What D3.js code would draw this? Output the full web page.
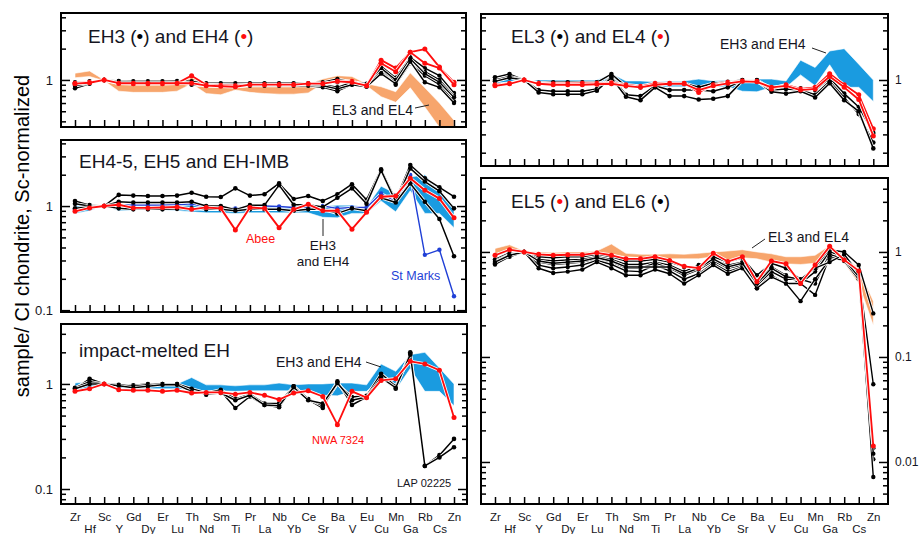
<!DOCTYPE html>
<html>
<head>
<meta charset="utf-8">
<script src="https://cdn.jsdelivr.net/npm/d3@7"></script>
<style>
  html, body { margin: 0; padding: 0; background: #fff; }
  svg { display: block; font-family: "Liberation Sans", Arial, Helvetica, sans-serif; }
</style>
</head>
<body>
<svg id="chart" width="919" height="534"></svg>
<script>
// ---------------------------------------------------------------------------
// Element order along the x axis (Sc-normalized, CI-chondrite ratios)
// ---------------------------------------------------------------------------
const elements = ["Zr","Hf","Sc","Y","Gd","Dy","Er","Lu","Th","Nd","Sm","Ti","Pr","La","Nb","Yb","Ce","Sr","Ba","V","Eu","Cu","Mn","Ga","Rb","Cs","Zn"];

// y-axis tick labels per panel
const labelsEH34 = [1];
const labelsEH45 = [1, 0.1];
const labelsImpact = [1, 0.1];
const labelsEL34 = [1];
const labelsEL56 = [1, 0.1, 0.01];

// --- EH3 (black) and EH4 (red) ---
const eh3Series = [
  [0.95,0.97,1,0.97,0.96,0.96,0.96,0.96,0.95,0.92,0.92,0.90,0.92,0.92,0.92,0.92,0.92,0.92,0.95,0.95,0.90,1.35,1.05,1.65,1.30,1.10,0.75],
  [0.90,0.95,1,0.95,0.94,0.94,0.94,0.95,0.92,0.90,0.90,0.88,0.90,0.90,0.90,0.90,0.90,0.90,0.85,0.95,0.88,1.25,0.95,1.55,1.20,1.00,0.70],
  [0.83,0.92,1,0.95,0.95,0.95,0.95,0.95,0.90,0.88,0.88,0.86,0.88,0.88,0.88,0.88,0.88,0.85,0.78,0.90,0.88,1.20,0.90,1.45,1.10,0.90,0.62],
  [0.92,0.95,1,0.98,0.97,0.97,0.97,0.98,0.97,0.93,0.93,0.93,0.93,0.93,0.93,0.93,0.93,0.95,1.02,0.95,0.92,1.30,1.00,1.60,1.15,0.95,0.68],
  [0.88,0.93,1,0.96,0.95,0.95,0.95,0.95,0.93,0.90,0.90,0.90,0.90,0.90,0.90,0.90,0.90,0.88,0.82,0.90,0.86,1.15,0.92,1.50,0.95,0.85,0.60]
];
const eh4Series = [
  [0.93,0.95,1,0.93,0.92,0.92,0.92,0.93,1.10,0.90,0.89,0.88,0.90,0.90,0.90,0.90,0.92,0.92,0.97,0.97,0.88,1.55,1.30,1.85,1.98,1.33,0.95],
  [0.92,0.94,1,0.93,0.93,0.93,0.93,0.93,0.93,0.88,0.87,0.86,0.90,0.90,0.90,0.90,0.92,0.92,0.97,0.95,0.88,1.45,1.20,1.85,1.45,1.30,0.90]
];
// EL3/EL4 field as shown behind the EH3/EH4 profiles
const elFieldLowA  = [1.05,1.08,0.98,0.78,0.76,0.76,0.76,0.78,0.92,0.74,0.72,0.80,0.76,0.74,0.73,0.73,0.75,0.92,0.93,0.90,0.88,0.69,0.61,0.84,0.55,0.35,0.20];
const elFieldHighA = [1.16,1.22,1.00,0.93,0.93,0.93,0.93,0.93,1.10,0.92,0.90,0.92,0.92,0.92,0.92,0.92,0.92,1.02,1.10,1.08,0.92,0.86,0.77,1.17,0.84,0.60,0.41];

// --- EH4-5, EH5 and EH-IMB ---
const eh5Series = [
  [1.12,1.02,1,1.28,1.26,1.25,1.25,1.26,1.34,1.23,1.22,1.48,1.26,1.30,1.65,1.17,1.25,1.12,1.30,1.62,1.15,2.25,1.14,2.48,1.85,1.51,1.23],
  [1.05,1.00,1,1.10,1.08,1.08,1.08,1.08,1.10,1.00,1.00,0.92,1.02,1.02,1.59,1.03,1.03,0.98,1.20,1.48,1.05,2.20,1.10,2.30,1.72,1.39,0.95],
  [0.95,0.98,1,0.95,0.93,0.93,0.93,0.94,0.95,0.93,0.93,0.90,0.93,0.93,0.93,0.90,0.93,0.93,0.85,0.95,0.90,1.20,1.08,1.65,1.10,0.75,0.33]
];
const abee    = [0.89,0.96,1,1.03,0.96,0.96,0.97,0.98,0.93,0.97,0.95,0.59,0.97,0.95,0.62,0.93,1.04,0.90,0.90,0.60,0.87,1.23,1.25,1.85,1.42,1.18,0.77];
const stMarks = [0.93,0.97,1,1.03,1.02,1.02,1.02,1.03,1.05,0.98,0.98,0.95,1.00,1.00,0.99,0.97,0.98,1.00,0.95,0.97,0.97,1.32,1.10,1.99,0.34,0.38,0.136];
// EH3/EH4 field
const ehFieldLow  = [0.85,0.90,1.00,0.90,0.90,0.90,0.90,0.90,0.88,0.86,0.86,0.85,0.86,0.86,0.86,0.86,0.86,0.78,0.77,0.85,0.85,1.12,0.88,1.40,0.85,0.85,0.62];
const ehFieldHigh = [1.02,1.05,1.00,1.00,1.00,1.00,1.00,1.00,1.15,0.98,0.98,0.96,0.98,0.98,1.02,0.98,1.00,1.00,1.02,1.02,0.98,1.55,1.32,1.90,2.00,1.42,1.00];

// --- impact-melted EH ---
const impactSeries = [
  [0.90,1.12,1,0.97,0.97,1.00,1.00,1.00,0.86,0.79,0.85,0.59,0.76,0.63,0.60,0.95,0.71,0.59,1.06,0.63,0.75,1.23,0.90,2.00,0.166,0.21,0.30],
  [0.92,1.05,1,0.98,0.95,0.98,1.00,1.00,0.90,0.82,0.88,0.72,0.80,0.65,0.65,0.95,0.72,0.62,1.00,0.75,0.77,1.25,0.95,1.95,0.166,0.20,0.25],
  [0.90,1.00,1,0.96,0.92,0.95,0.98,0.98,0.85,0.80,0.82,0.70,0.78,0.63,0.62,0.93,0.70,0.65,1.02,0.70,0.75,1.15,0.92,1.90,null,null,null]
];
const nwa7324 = [0.85,0.90,1,0.88,0.87,0.87,0.85,0.87,0.82,0.83,0.83,0.80,0.83,0.78,0.71,0.82,0.86,0.76,0.41,0.85,0.74,1.08,1.12,1.64,1.55,1.35,0.48];

// --- EL3 (black) and EL4 (red) ---
const el3Series = [
  [1.06,1.14,1,0.94,0.95,0.95,0.95,0.95,1.14,0.87,0.85,0.88,0.93,0.93,0.85,0.93,0.96,1.00,1.00,0.83,0.85,0.83,0.80,1.04,0.74,0.55,0.31],
  [1.00,1.08,1,0.80,0.78,0.78,0.78,0.82,1.08,0.72,0.70,0.88,0.80,0.80,0.80,0.78,0.85,0.99,0.99,0.80,0.82,0.80,0.72,0.97,0.68,0.47,0.25],
  [0.97,1.05,1,0.76,0.73,0.73,0.73,0.79,1.05,0.69,0.64,0.85,0.70,0.70,0.65,0.66,0.70,0.98,0.98,0.77,0.74,0.78,0.68,0.93,0.64,0.50,0.22]
];
const el4Series = [
  [0.90,0.93,1,0.93,0.92,0.92,0.93,0.93,0.94,0.90,0.87,0.93,0.93,0.93,0.76,0.90,0.95,0.98,0.97,0.82,0.90,0.82,0.85,1.15,0.90,0.72,0.34],
  [0.88,0.92,1,0.92,0.90,0.90,0.90,0.91,0.92,0.88,0.85,0.90,0.92,0.92,0.80,0.88,0.93,0.97,0.96,0.85,0.88,0.80,0.82,1.08,0.85,0.65,0.29]
];

// --- EL5 (red) and EL6 (black) ---
const el6Series = [
  [0.85,0.98,1,0.90,0.88,0.90,0.90,0.95,0.90,0.82,0.82,0.85,0.80,0.72,0.72,0.90,0.80,0.88,0.60,0.78,0.70,0.55,0.72,1.05,1.00,0.75,0.26],
  [0.82,0.95,1,0.85,0.82,0.84,0.85,0.90,0.85,0.76,0.76,0.80,0.75,0.65,0.75,0.85,0.75,0.80,0.52,0.72,0.60,0.50,0.65,1.00,0.90,0.60,0.055],
  [0.80,0.94,1,0.80,0.76,0.78,0.80,0.86,0.80,0.70,0.70,0.78,0.70,0.60,0.68,0.82,0.70,0.75,0.48,0.65,0.55,0.55,0.50,0.95,0.85,0.60,0.0135],
  [0.78,0.92,1,0.75,0.70,0.72,0.75,0.83,0.76,0.66,0.65,0.75,0.66,0.55,0.62,0.78,0.65,0.72,0.45,0.60,0.50,0.50,0.39,0.90,0.82,0.55,0.0106],
  [0.76,0.90,1,0.70,0.63,0.65,0.68,0.80,0.70,0.60,0.60,0.68,0.62,0.50,0.60,0.75,0.62,0.70,0.45,0.58,0.50,0.34,0.55,0.85,0.85,0.58,0.0072],
  [0.80,0.93,1,0.82,0.78,0.80,0.82,0.88,0.82,0.72,0.72,0.72,0.72,0.62,0.70,0.86,0.72,0.78,0.50,0.70,0.58,0.55,0.70,0.80,0.95,0.62,0.012]
];
const el5 = [0.93,1.05,1,0.95,0.93,0.94,0.94,0.98,0.93,0.86,0.86,0.90,0.83,0.73,0.70,0.97,0.81,0.90,0.52,0.82,0.77,0.50,0.75,1.13,0.84,0.66,0.0142];
// EL3/EL4 field as shown behind the EL5/EL6 profiles
const elFieldLowB  = [0.95,1.05,0.98,0.95,0.93,0.94,0.94,0.97,0.95,0.90,0.88,0.90,0.86,0.86,0.86,0.90,0.82,0.88,0.86,0.80,0.77,0.76,0.78,1.00,0.78,0.50,0.20];
const elFieldHighB = [1.08,1.17,1.02,1.00,0.99,1.00,1.00,1.02,1.19,0.97,0.95,0.95,0.96,0.95,0.97,1.00,1.02,1.05,1.00,0.96,0.90,0.90,0.93,1.15,0.92,0.70,0.34];

// ---------------------------------------------------------------------------
// Styling
// ---------------------------------------------------------------------------
const BLACK = "#000";
const RED = "#ff0d0d";
const BLUE_LINE = "#1f3fd6";
const BLUE_FIELD = "#1a9be0";
const ORANGE_FIELD = "#f7a56c";
const TEXT = "#151522";

const svg = d3.select("#chart");
const defs = svg.append("defs");

const leftX = [75, 454];
const rightX = [495, 873.3];

const panels = [
  { id: "a", x0: 61, x1: 466, y0: 13, y1: 127, xr: leftX, dom: [0.353, 4.4], labels: labelsEH34, side: "left",
    layers: [
      { band: [elFieldLowA, elFieldHighA], color: ORANGE_FIELD },
      { series: eh3Series, color: BLACK, w: 1.4, r: 2.2 },
      { series: eh4Series, color: RED, w: 1.8, r: 2.5 }
    ] },
  { id: "b", x0: 61, x1: 466, y0: 140, y1: 312, xr: leftX, dom: [0.096, 4.31], labels: labelsEH45, side: "left",
    layers: [
      { band: [ehFieldLow, ehFieldHigh], color: BLUE_FIELD },
      { series: [stMarks], color: BLUE_LINE, w: 1.4, r: 2.2 },
      { series: eh5Series, color: BLACK, w: 1.5, r: 2.3 },
      { series: [abee], color: RED, w: 1.9, r: 2.5 }
    ] },
  { id: "c", x0: 61, x1: 467, y0: 324, y1: 504, xr: leftX, dom: [0.072, 3.72], labels: labelsImpact, side: "left", xlabels: true,
    layers: [
      { band: [ehFieldLow, ehFieldHigh], color: BLUE_FIELD },
      { series: impactSeries, color: BLACK, w: 1.5, r: 2.3 },
      { series: [nwa7324], color: RED, w: 1.8, r: 2.5 }
    ] },
  { id: "d", x0: 481, x1: 888, y0: 14, y1: 166, xr: rightX, dom: [0.149, 4.31], labels: labelsEL34, side: "right",
    layers: [
      { band: [ehFieldLow, ehFieldHigh], color: BLUE_FIELD },
      { series: el3Series, color: BLACK, w: 1.5, r: 2.3 },
      { series: el4Series, color: RED, w: 1.8, r: 2.5 }
    ] },
  { id: "e", x0: 481, x1: 888, y0: 178, y1: 504, xr: rightX, dom: [0.00398, 5.06], labels: labelsEL56, side: "right", xlabels: true,
    layers: [
      { band: [elFieldLowB, elFieldHighB], color: ORANGE_FIELD },
      { series: el6Series, color: BLACK, w: 1.4, r: 2.2 },
      { series: [el5], color: RED, w: 1.8, r: 2.5 }
    ] }
];

function logTickValues(dom) {
  const out = [];
  for (let e = -4; e <= 1; e++) {
    for (let k = 1; k <= 9; k++) {
      const v = +(k * Math.pow(10, e)).toPrecision(3);
      if (v > dom[0] * 1.02 && v < dom[1] / 1.02) out.push(v);
    }
  }
  return out;
}
const isDecade = v => Math.abs(Math.log10(v) - Math.round(Math.log10(v))) < 1e-6;

function drawPanel(p) {
  const g = svg.append("g").attr("class", "panel-" + p.id);
  const x = d3.scalePoint().domain(elements).range(p.xr);
  const y = d3.scaleLog().domain(p.dom).range([p.y1, p.y0]);
  const idx = d3.range(elements.length);

  defs.append("clipPath").attr("id", "clip-" + p.id)
    .append("rect").attr("x", p.x0).attr("y", p.y0)
    .attr("width", p.x1 - p.x0).attr("height", p.y1 - p.y0);

  const plot = g.append("g").attr("clip-path", `url(#clip-${p.id})`);

  p.layers.forEach(L => {
    if (L.band) {
      const area = d3.area()
        .x(i => x(elements[i]))
        .y0(i => y(L.band[0][i]))
        .y1(i => y(L.band[1][i]));
      plot.append("path").datum(idx).attr("d", area)
        .attr("fill", L.color).attr("stroke", "#fff").attr("stroke-width", 0.6);
    } else {
      const line = d3.line()
        .defined(d => d != null)
        .x((d, i) => x(elements[i]))
        .y(d => y(d));
      L.series.forEach(s => {
        plot.append("path").datum(s).attr("d", line)
          .attr("fill", "none").attr("stroke", "#fff")
          .attr("stroke-width", L.w + 1.6).attr("stroke-linejoin", "round");
        plot.append("path").datum(s).attr("d", line)
          .attr("fill", "none").attr("stroke", L.color)
          .attr("stroke-width", L.w).attr("stroke-linejoin", "round");
        plot.append("g").selectAll("circle")
          .data(s.map((v, i) => ({ v, i })).filter(d => d.v != null))
          .join("circle")
          .attr("cx", d => x(elements[d.i]))
          .attr("cy", d => y(d.v))
          .attr("r", L.r)
          .attr("fill", L.color);
      });
    }
  });

  // y ticks: inside, on both sides
  const all = logTickValues(p.dom);
  const major = all.filter(isDecade);
  const minor = all.filter(v => !isDecade(v));
  const tickStyle = sel => {
    sel.select(".domain").remove();
    sel.selectAll("line").attr("stroke", "#000").attr("stroke-width", 1.5);
  };
  g.append("g").attr("transform", `translate(${p.x0},0)`)
    .call(d3.axisLeft(y).tickValues(minor).tickSize(-5).tickFormat("")).call(tickStyle);
  g.append("g").attr("transform", `translate(${p.x0},0)`)
    .call(d3.axisLeft(y).tickValues(major).tickSize(-9).tickFormat("")).call(tickStyle);
  g.append("g").attr("transform", `translate(${p.x1},0)`)
    .call(d3.axisRight(y).tickValues(minor).tickSize(-5).tickFormat("")).call(tickStyle);
  g.append("g").attr("transform", `translate(${p.x1},0)`)
    .call(d3.axisRight(y).tickValues(major).tickSize(-9).tickFormat("")).call(tickStyle);

  // y tick labels
  const fmt = d3.format("~g");
  const labelAxis = p.side === "left"
    ? d3.axisLeft(y).tickValues(p.labels).tickSize(0).tickPadding(8).tickFormat(fmt)
    : d3.axisRight(y).tickValues(p.labels).tickSize(0).tickPadding(7).tickFormat(fmt);
  g.append("g").attr("transform", `translate(${p.side === "left" ? p.x0 : p.x1},0)`)
    .call(labelAxis)
    .call(sel => {
      sel.select(".domain").remove();
      sel.selectAll("text").attr("font-size", p.side === "left" ? 13 : 12).attr("fill", TEXT)
        .attr("font-family", '"Liberation Sans", Arial, sans-serif');
    });

  // x ticks along the bottom edge, pointing inward
  g.append("g").attr("transform", `translate(0,${p.y1})`)
    .call(d3.axisBottom(x).tickSize(-7).tickFormat("")).call(tickStyle);

  if (p.xlabels) {
    const even = elements.filter((e, i) => i % 2 === 0);
    const odd = elements.filter((e, i) => i % 2 === 1);
    [[even, 9], [odd, 21]].forEach(([vals, pad]) => {
      g.append("g").attr("transform", `translate(0,${p.y1})`)
        .call(d3.axisBottom(x).tickValues(vals).tickSize(0).tickPadding(pad))
        .call(sel => {
          sel.select(".domain").remove();
          sel.selectAll("text").attr("font-size", 11.5).attr("fill", TEXT)
            .attr("font-family", '"Liberation Sans", Arial, sans-serif');
        });
    });
  }

  // frame
  g.append("rect").attr("x", p.x0).attr("y", p.y0)
    .attr("width", p.x1 - p.x0).attr("height", p.y1 - p.y0)
    .attr("fill", "none").attr("stroke", "#000").attr("stroke-width", 2);
}

panels.forEach(drawPanel);

// ---------------------------------------------------------------------------
// Panel titles
// ---------------------------------------------------------------------------
function title(xp, yp, parts) {
  const t = svg.append("text").attr("x", xp).attr("y", yp)
    .attr("font-size", 19).attr("fill", TEXT);
  parts.forEach(([s, c]) => t.append("tspan").text(s).attr("fill", c || TEXT));
}
title(88, 43, [["EH3 ("], ["\u2022", BLACK], [") and EH4 ("], ["\u2022", RED], [")"]]);
title(79, 168, [["EH4-5, EH5 and EH-IMB"]]);
title(79, 357, [["impact-melted EH"]]);
title(511, 43, [["EL3 ("], ["\u2022", BLACK], [") and EL4 ("], ["\u2022", RED], [")"]]);
title(511, 208, [["EL5 ("], ["\u2022", RED], [") and EL6 ("], ["\u2022", BLACK], [")"]]);

// ---------------------------------------------------------------------------
// Annotations
// ---------------------------------------------------------------------------
function note(xp, yp, txt, size, color, anchor) {
  svg.append("text").attr("x", xp).attr("y", yp).text(txt)
    .attr("font-size", size).attr("fill", color)
    .attr("text-anchor", anchor || "start");
}
function leader(x1, y1, x2, y2) {
  svg.append("line").attr("x1", x1).attr("y1", y1).attr("x2", x2).attr("y2", y2)
    .attr("stroke", "#222").attr("stroke-width", 1);
}
note(332, 115, "EL3 and EL4", 14, TEXT); leader(415, 108, 429, 105);
note(246, 243, "Abee", 12.5, RED);
note(323, 250, "EH3", 13.5, TEXT, "middle");
note(323, 266, "and EH4", 13.5, TEXT, "middle"); leader(323, 219, 323, 236);
note(391, 280, "St Marks", 12.5, BLUE_LINE);
note(276, 367, "EH3 and EH4", 14, TEXT); leader(366, 362, 381, 367);
note(312, 444, "NWA 7324", 11, RED);
note(397, 487, "LAP 02225", 11, TEXT);
note(720, 49, "EH3 and EH4", 14, TEXT); leader(812, 48, 826, 53);
note(768, 242, "EL3 and EL4", 14, TEXT); leader(765, 239, 752, 248);

// y-axis title
svg.append("text")
  .attr("transform", "translate(29,236) rotate(-90)")
  .attr("text-anchor", "middle")
  .attr("font-size", 20).attr("fill", "#000")
  .text("sample/ CI chondrite, Sc-normalized");
</script>
</body>
</html>
